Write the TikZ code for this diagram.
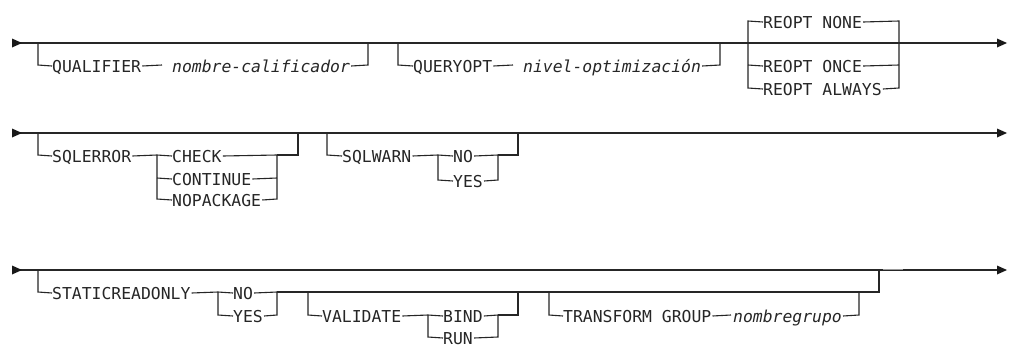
\documentclass[tikz,border=0pt]{standalone}
\usepackage{fontspec}
\setmonofont{DejaVu Sans Mono}
\newcommand{\rrfont}{\ttfamily\fontsize{16.4}{19}\selectfont}
\tikzset{
  rr/.style={line width=1.1pt, draw=black!85},
  lbl/.style={anchor=west, inner sep=0pt, text height=12pt, text depth=0pt, yshift=-1pt, font=\rrfont, text=black!85},
  ilbl/.style={lbl, font=\rrfont\itshape},
  tipfill/.style={fill=black!90}
}
\begin{document}
\begin{tikzpicture}[x=1pt,y=-1pt]
\useasboundingbox (0,0) rectangle (1010,346);
\fill[white] (0,0) rectangle (1010,346);

% ---------- row 1 ----------
\coordinate (s1) at (12,43);
\coordinate (e1) at (998,43);
\draw[rr] (s1) -- (e1);
\fill[tipfill] (12,38.5) -- (22,43) -- (12,47.5) -- cycle;
\fill[tipfill] (997,38.5) -- (1007,43) -- (997,47.5) -- cycle;

\node[lbl] (qual) at (52,65) {QUALIFIER};
\node[ilbl] (qualv) at (172,65) {nombre-calificador};
\draw[rr] (38,43) -- (38,65) -- (qual.west);
\draw[rr] ([xshift=1pt]qual.east) -- (162,65);
\draw[rr] ([xshift=1pt]qualv.east) -- (368,65) -- (368,43);

\node[lbl] (qopt) at (413,65) {QUERYOPT};
\node[ilbl] (qoptv) at (523,65) {nivel-optimización};
\draw[rr] (398,43) -- (398,65) -- (qopt.west);
\draw[rr] ([xshift=1pt]qopt.east) -- (513,65);
\draw[rr] ([xshift=1pt]qoptv.east) -- (720,65) -- (720,43);

\node[lbl] (rnone) at (763,21) {REOPT NONE};
\node[lbl] (ronce) at (763,65) {REOPT ONCE};
\node[lbl] (ralw) at (763,88) {REOPT ALWAYS};
\draw[rr] (rnone.west) -- (748,21) -- (748,88) -- (ralw.west);
\draw[rr] (748,65) -- (ronce.west);
\draw[rr] ([xshift=1pt]rnone.east) -- (899,21) -- (899,88) -- ([xshift=1pt]ralw.east);
\draw[rr] ([xshift=1pt]ronce.east) -- (899,65);

% ---------- row 2 ----------
\coordinate (s2) at (12,133);
\coordinate (e2) at (998,133);
\draw[rr] (s2) -- (e2);
\fill[tipfill] (12,128.5) -- (22,133) -- (12,137.5) -- cycle;
\fill[tipfill] (997,128.5) -- (1007,133) -- (997,137.5) -- cycle;

\node[lbl] (sqle) at (52,155) {SQLERROR};
\draw[rr] (38,133) -- (38,155) -- (sqle.west);
\draw[rr] ([xshift=1pt]sqle.east) -- (157,155);
\node[lbl] (chk) at (172,155) {CHECK};
\node[lbl] (cont) at (172,178) {CONTINUE};
\node[lbl] (nopk) at (172,199) {NOPACKAGE};
\draw[rr] (157,155) -- (157,199) -- (nopk.west);
\draw[rr] (157,155) -- (chk.west);
\draw[rr] (157,178) -- (cont.west);
\draw[rr] ([xshift=1pt]chk.east) -- (277,155) -- (277,199) -- ([xshift=1pt]nopk.east);
\draw[rr] ([xshift=1pt]cont.east) -- (277,178);
\draw[rr] (277,155) -- (298,155) -- (298,133);

\node[lbl] (sqlw) at (342,155) {SQLWARN};
\draw[rr] (327,133) -- (327,155) -- (sqlw.west);
\draw[rr] ([xshift=1pt]sqlw.east) -- (438,155);
\node[lbl] (wno) at (453,155) {NO};
\node[lbl] (wyes) at (453,180) {YES};
\draw[rr] (438,155) -- (438,180) -- (wyes.west);
\draw[rr] (438,155) -- (wno.west);
\draw[rr] ([xshift=1pt]wno.east) -- (498,155) -- (498,180) -- ([xshift=1pt]wyes.east);
\draw[rr] (498,155) -- (518,155) -- (518,133);

% ---------- row 3 ----------
\coordinate (s3) at (12,270);
\coordinate (e3) at (998,270);
\draw[rr] (s3) -- (e3);
\fill[tipfill] (12,265.5) -- (22,270) -- (12,274.5) -- cycle;
\fill[tipfill] (997,265.5) -- (1007,270) -- (997,274.5) -- cycle;
\draw[line width=1pt, black!40] (883,269.2) -- (903,269.2);

\node[lbl] (sro) at (52,292) {STATICREADONLY};
\draw[rr] (38,270) -- (38,292) -- (sro.west);
\draw[rr] ([xshift=1pt]sro.east) -- (218,292);
\node[lbl] (sno) at (233,292) {NO};
\node[lbl] (syes) at (233,315) {YES};
\draw[rr] (218,292) -- (218,315) -- (syes.west);
\draw[rr] (218,292) -- (sno.west);
\draw[rr] ([xshift=1pt]sno.east) -- (277,292) -- (277,315) -- ([xshift=1pt]syes.east);
\draw[rr] (277,292) -- (879,292) -- (879,270);

\node[lbl] (val) at (322,315) {VALIDATE};
\draw[rr] (308,292) -- (308,315) -- (val.west);
\draw[rr] ([xshift=1pt]val.east) -- (428,315);
\node[lbl] (bind) at (443,315) {BIND};
\node[lbl] (run) at (443,337) {RUN};
\draw[rr] (428,315) -- (428,337) -- (run.west);
\draw[rr] (428,315) -- (bind.west);
\draw[rr] ([xshift=1pt]bind.east) -- (498,315) -- (498,337) -- ([xshift=1pt]run.east);
\draw[rr] (498,315) -- (518,315) -- (518,292);

\node[lbl] (tg) at (563,315) {TRANSFORM GROUP};
\node[ilbl] (tgv) at (733,315) {nombregrupo};
\draw[rr] (549,292) -- (549,315) -- (tg.west);
\draw[rr] ([xshift=1pt]tg.east) -- (731,315);
\draw[rr] ([xshift=1pt]tgv.east) -- (859,315) -- (859,292);
\end{tikzpicture}
\end{document}
